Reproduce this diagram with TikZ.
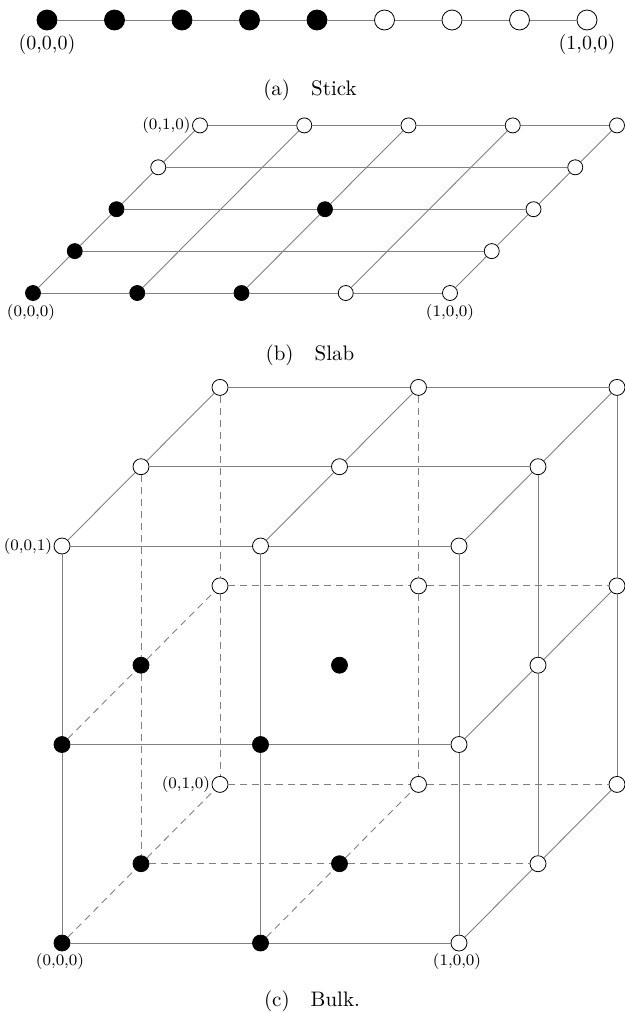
\documentclass[tikz,border=0pt]{standalone}
\begin{document}
\begin{tikzpicture}[x=0.5pt,y=-0.5pt,
  bl/.style={circle, draw=black, fill=black, inner sep=0pt, minimum size=#1},
  wh/.style={circle, draw=black, fill=white, inner sep=0pt, minimum size=#1},
  ln/.style={draw=gray, line width=0.45pt},
  hd/.style={ln, dash pattern=on 3.5pt off 2.5pt},
  labA/.style={font=\fontsize{10}{12}\selectfont, inner sep=0pt},
  labS/.style={font=\fontsize{8}{9.5}\selectfont, inner sep=0.6pt},
  capt/.style={font=\fontsize{10.5}{12}\selectfont, inner sep=0pt}]
\useasboundingbox (0,0) rectangle (625,1013);

% ---------- (a) Stick ----------
\foreach \i in {0,...,4} \node[bl=10pt] (s\i) at ({47+67.5*\i},20) {};
\foreach \i in {5,...,8} \node[wh=10pt] (s\i) at ({47+67.5*\i},20) {};
\draw[ln] (s0) -- (s1) -- (s2) -- (s3) -- (s4) -- (s5) -- (s6) -- (s7) -- (s8);
\node[labA] (la0) at (47,44) {(0,0,0)};
\node[labA] (la1) at (587,44) {(1,0,0)};
\node[capt] (capa) at (310,90) {(a)\quad Stick};

% ---------- (b) Slab ----------
\def\sx#1#2{33+104.25*#1+41.75*#2}
\def\sy#1{293-41.9*#1}
% bottom row
\node[bl=7.5pt] (p00) at ({\sx{0}{0}},{\sy{0}}) {};
\node[bl=7.5pt] (p10) at ({\sx{1}{0}},{\sy{0}}) {};
\node[bl=7.5pt] (p20) at ({\sx{2}{0}},{\sy{0}}) {};
\node[wh=7.5pt] (p30) at ({\sx{3}{0}},{\sy{0}}) {};
\node[wh=7.5pt] (p40) at ({\sx{4}{0}},{\sy{0}}) {};
% row 1
\node[bl=7.5pt] (p01) at ({\sx{0}{1}},{\sy{1}}) {};
\node[wh=7.5pt] (p41) at ({\sx{4}{1}},{\sy{1}}) {};
% row 2
\node[bl=7.5pt] (p02) at ({\sx{0}{2}},{\sy{2}}) {};
\node[bl=7.5pt] (p22) at ({\sx{2}{2}},{\sy{2}}) {};
\node[wh=7.5pt] (p42) at ({\sx{4}{2}},{\sy{2}}) {};
% row 3
\node[wh=7.5pt] (p03) at ({\sx{0}{3}},{\sy{3}}) {};
\node[wh=7.5pt] (p43) at ({\sx{4}{3}},{\sy{3}}) {};
% top row
\foreach \i in {0,...,4} \node[wh=7.5pt] (p\i4) at ({\sx{\i}{4}},{\sy{4}}) {};
% rows
\draw[ln] (p00) -- (p10) -- (p20) -- (p30) -- (p40);
\draw[ln] (p01) -- (p41);
\draw[ln] (p02) -- (p22) -- (p42);
\draw[ln] (p03) -- (p43);
\draw[ln] (p04) -- (p14) -- (p24) -- (p34) -- (p44);
% depth lines
\draw[ln] (p00) -- (p01) -- (p02) -- (p03) -- (p04);
\draw[ln] (p10) -- (p14);
\draw[ln] (p20) -- (p22) -- (p24);
\draw[ln] (p30) -- (p34);
\draw[ln] (p40) -- (p41) -- (p42) -- (p43) -- (p44);
\node[labS] (lb0) at (31,312) {(0,0,0)};
\node[labS] (lb1) at (450,312) {(1,0,0)};
\node[labS, anchor=east] (lb2) at (p04.west) {(0,1,0)};
\node[capt] (capb) at (310,355) {(b)\quad Slab};

% ---------- (c) Bulk ----------
\def\bx#1#2{62+198.5*#1+79*#2}
\def\by#1#2{943-198.5*#2-79.3*#1}
% k = 2 (top): all white
\foreach \i in {0,1,2} \foreach \j in {0,1,2}
  \node[wh=8pt] (b\i\j2) at ({\bx{\i}{\j}},{\by{\j}{2}}) {};
% k = 1
\node[bl=8pt] (b001) at ({\bx{0}{0}},{\by{0}{1}}) {};
\node[bl=8pt] (b101) at ({\bx{1}{0}},{\by{0}{1}}) {};
\node[wh=8pt] (b201) at ({\bx{2}{0}},{\by{0}{1}}) {};
\node[bl=8pt] (b011) at ({\bx{0}{1}},{\by{1}{1}}) {};
\node[bl=8pt] (b111) at ({\bx{1}{1}},{\by{1}{1}}) {};
\node[wh=8pt] (b211) at ({\bx{2}{1}},{\by{1}{1}}) {};
\node[wh=8pt] (b021) at ({\bx{0}{2}},{\by{2}{1}}) {};
\node[wh=8pt] (b121) at ({\bx{1}{2}},{\by{2}{1}}) {};
\node[wh=8pt] (b221) at ({\bx{2}{2}},{\by{2}{1}}) {};
% k = 0
\node[bl=8pt] (b000) at ({\bx{0}{0}},{\by{0}{0}}) {};
\node[bl=8pt] (b100) at ({\bx{1}{0}},{\by{0}{0}}) {};
\node[wh=8pt] (b200) at ({\bx{2}{0}},{\by{0}{0}}) {};
\node[bl=8pt] (b010) at ({\bx{0}{1}},{\by{1}{0}}) {};
\node[bl=8pt] (b110) at ({\bx{1}{1}},{\by{1}{0}}) {};
\node[wh=8pt] (b210) at ({\bx{2}{1}},{\by{1}{0}}) {};
\node[wh=8pt] (b020) at ({\bx{0}{2}},{\by{2}{0}}) {};
\node[wh=8pt] (b120) at ({\bx{1}{2}},{\by{2}{0}}) {};
\node[wh=8pt] (b220) at ({\bx{2}{2}},{\by{2}{0}}) {};

% hidden (dashed) lines
\draw[hd] (b012) -- (b011) -- (b010);
\draw[hd] (b022) -- (b021) -- (b020);
\draw[hd] (b122) -- (b121) -- (b120);
\draw[hd] (b021) -- (b121) -- (b221);
\draw[hd] (b020) -- (b120) -- (b220);
\draw[hd] (b010) -- (b110) -- (b210);
\draw[hd] (b001) -- (b011) -- (b021);
\draw[hd] (b000) -- (b010) -- (b020);
\draw[hd] (b100) -- (b110) -- (b120);

% top face (solid)
\draw[ln] (b002) -- (b102) -- (b202);
\draw[ln] (b012) -- (b112) -- (b212);
\draw[ln] (b022) -- (b122) -- (b222);
\draw[ln] (b002) -- (b012) -- (b022);
\draw[ln] (b102) -- (b112) -- (b122);
\draw[ln] (b202) -- (b212) -- (b222);
% front face (solid)
\draw[ln] (b000) -- (b100) -- (b200);
\draw[ln] (b001) -- (b101) -- (b201);
\draw[ln] (b000) -- (b001) -- (b002);
\draw[ln] (b100) -- (b101) -- (b102);
\draw[ln] (b200) -- (b201) -- (b202);
% right face (solid)
\draw[ln] (b200) -- (b210) -- (b220);
\draw[ln] (b201) -- (b211) -- (b221);
\draw[ln] (b210) -- (b211) -- (b212);
\draw[ln] (b220) -- (b221) -- (b222);

\node[labS, anchor=east] (lc0) at (b002.west) {(0,0,1)};
\node[labS, anchor=east] (lc1) at (b020.west) {(0,1,0)};
\node[labS] (lc2) at (60,961) {(0,0,0)};
\node[labS] (lc3) at (457,961) {(1,0,0)};
\node[capt] (capc) at (312,1001) {(c)\quad Bulk.};
\end{tikzpicture}
\end{document}
